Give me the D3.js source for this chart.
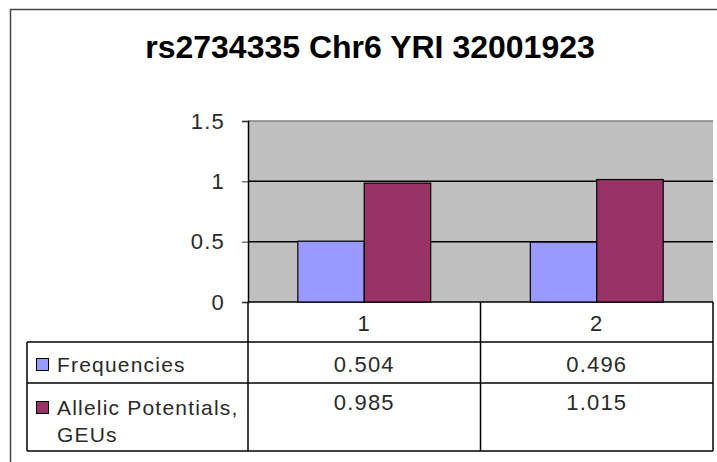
<!DOCTYPE html>
<head>
<meta charset="utf-8">
<title>rs2734335 Chr6 YRI 32001923</title>
<script type="text/javascript" src="https://d3js.org/d3.v7.min.js"></script>
<style>
    body { margin: 0; background: #fff; }
    text { font-family: "Liberation Sans", Arial, sans-serif; }
    .lbl { letter-spacing: 1.2px; fill: #2a2a2a; }
</style>
</head>
<body>
    <div id="my_dataviz"></div>
<script>

    // chart data
    var categories = ["1", "2"];
    var seriesNames = ["Frequencies", "Allelic Potentials, GEUs"];
    var frequencies = [0.504, 0.496];
    var allelic = [0.985, 1.015];
    var yTicks = [0, 0.5, 1, 1.5];
    var seriesColors = ["#9999ff", "#993366"];

    var W = 717, H = 462;

    // plot area
    var plot = {left: 248, right: 713, top: 121, bottom: 302};

    var svg = d3.select("#my_dataviz")
      .append("svg")
        .attr("width", W)
        .attr("height", H);

    // outer frame
    svg.append("rect")
        .attr("x", 10.5).attr("y", 9.5)
        .attr("width", 720).attr("height", 470)
        .attr("fill", "#fff")
        .attr("stroke", "#444")
        .attr("stroke-width", 1.5);

    // title
    svg.append("text")
        .attr("x", 370)
        .attr("y", 58)
        .attr("text-anchor", "middle")
        .style("font-size", "32px")
        .style("font-weight", "bold")
        .attr("fill", "#000")
        .text("rs2734335 Chr6 YRI 32001923");

    var x = d3.scaleBand()
      .domain(categories)
      .range([plot.left, plot.right])
      .padding(0);

    var y = d3.scaleLinear()
      .domain([0, 1.5])
      .range([plot.bottom, plot.top]);

    // gray plot background
    svg.append("rect")
        .attr("x", plot.left).attr("y", plot.top)
        .attr("width", plot.right - plot.left)
        .attr("height", plot.bottom - plot.top)
        .attr("fill", "#c0c0c0");

    // grid lines
    svg.selectAll("grid")
        .data(yTicks)
        .enter()
        .append("line")
        .attr("x1", plot.left).attr("x2", plot.right)
        .attr("y1", function(d) { return y(d); })
        .attr("y2", function(d) { return y(d); })
        .attr("stroke", function(d) { return d == 1.5 ? "#808080" : "#000"; })
        .attr("stroke-width", 1.5);

    // bars - excel style gap width 150%
    var bw = x.bandwidth() / 3.5;
    var series = [frequencies, allelic];
    series.forEach(function(vals, si) {
        svg.selectAll("bar" + si)
            .data(vals)
            .enter()
            .append("rect")
            .attr("x", function(d, i) { return x(categories[i]) + bw * 0.75 + si * bw; })
            .attr("y", function(d) { return y(d); })
            .attr("width", bw)
            .attr("height", function(d) { return y(0) - y(d); })
            .attr("fill", seriesColors[si])
            .attr("stroke", "#000")
            .attr("stroke-width", 1.2);
    });

    // y axis
    var yAxis = svg.append("g")
      .attr("transform", "translate(" + plot.left + ",0)")
      .call(d3.axisLeft(y).tickValues(yTicks).tickFormat(function(d) { return d; }).tickSize(6).tickPadding(17));
    yAxis.select(".domain").attr("stroke", "#000").attr("stroke-width", 1.5);
    yAxis.selectAll("line").attr("stroke", "#333");
    yAxis.selectAll("text")
        .attr("class", "lbl")
        .style("font-size", "22px")
        .style("font-family", "Liberation Sans, Arial, sans-serif");

    // data table
    var tbl = {left: 27, catTop: plot.bottom, top: 342, mid: 383, bottom: 451};

    // horizontal lines
    [tbl.top, tbl.mid, tbl.bottom].forEach(function(yy) {
        svg.append("line")
            .attr("x1", tbl.left).attr("x2", plot.right)
            .attr("y1", yy).attr("y2", yy)
            .attr("stroke", "#000").attr("stroke-width", 1.5);
    });
    svg.append("line")
        .attr("x1", tbl.left).attr("x2", tbl.left)
        .attr("y1", tbl.top).attr("y2", tbl.bottom)
        .attr("stroke", "#000").attr("stroke-width", 1.5);

    // vertical lines at category boundaries
    var bounds = categories.map(function(c) { return x(c); }).concat([plot.right]);
    svg.selectAll("vline")
        .data(bounds)
        .enter()
        .append("line")
        .attr("x1", function(d) { return d; }).attr("x2", function(d) { return d; })
        .attr("y1", tbl.catTop).attr("y2", tbl.bottom)
        .attr("stroke", "#000").attr("stroke-width", 1.5);

    // category labels
    svg.selectAll("catlab")
        .data(categories)
        .enter()
        .append("text")
        .attr("class", "lbl")
        .attr("x", function(d) { return x(d) + x.bandwidth() / 2; })
        .attr("y", 331)
        .attr("text-anchor", "middle")
        .style("font-size", "22px")
        .text(function(d) { return d; });

    // legend keys + series names
    var rowBase = [372, 415];
    seriesNames.forEach(function(name, si) {
        svg.append("rect")
            .attr("x", 36.5).attr("y", rowBase[si] - 13.5)
            .attr("width", 12).attr("height", 12)
            .attr("fill", seriesColors[si])
            .attr("stroke", "#000").attr("stroke-width", 1);
    });
    svg.append("text")
        .attr("class", "lbl")
        .attr("x", 57).attr("y", rowBase[0])
        .style("font-size", "21px")
        .text(seriesNames[0]);
    var t2 = svg.append("text")
        .attr("class", "lbl")
        .attr("x", 57).attr("y", rowBase[1])
        .style("font-size", "21px");
    t2.append("tspan").attr("x", 57).text("Allelic Potentials,");
    t2.append("tspan").attr("x", 57).attr("dy", 27).text("GEUs");

    // values
    var valRows = [372, 410];
    var fmt = d3.format(".3f");
    series.forEach(function(vals, si) {
        svg.selectAll("val" + si)
            .data(vals)
            .enter()
            .append("text")
            .attr("class", "lbl")
            .attr("x", function(d, i) { return x(categories[i]) + x.bandwidth() / 2; })
            .attr("y", valRows[si])
            .attr("text-anchor", "middle")
            .style("font-size", "22px")
            .text(function(d) { return fmt(d); });
    });

</script>
</body>
